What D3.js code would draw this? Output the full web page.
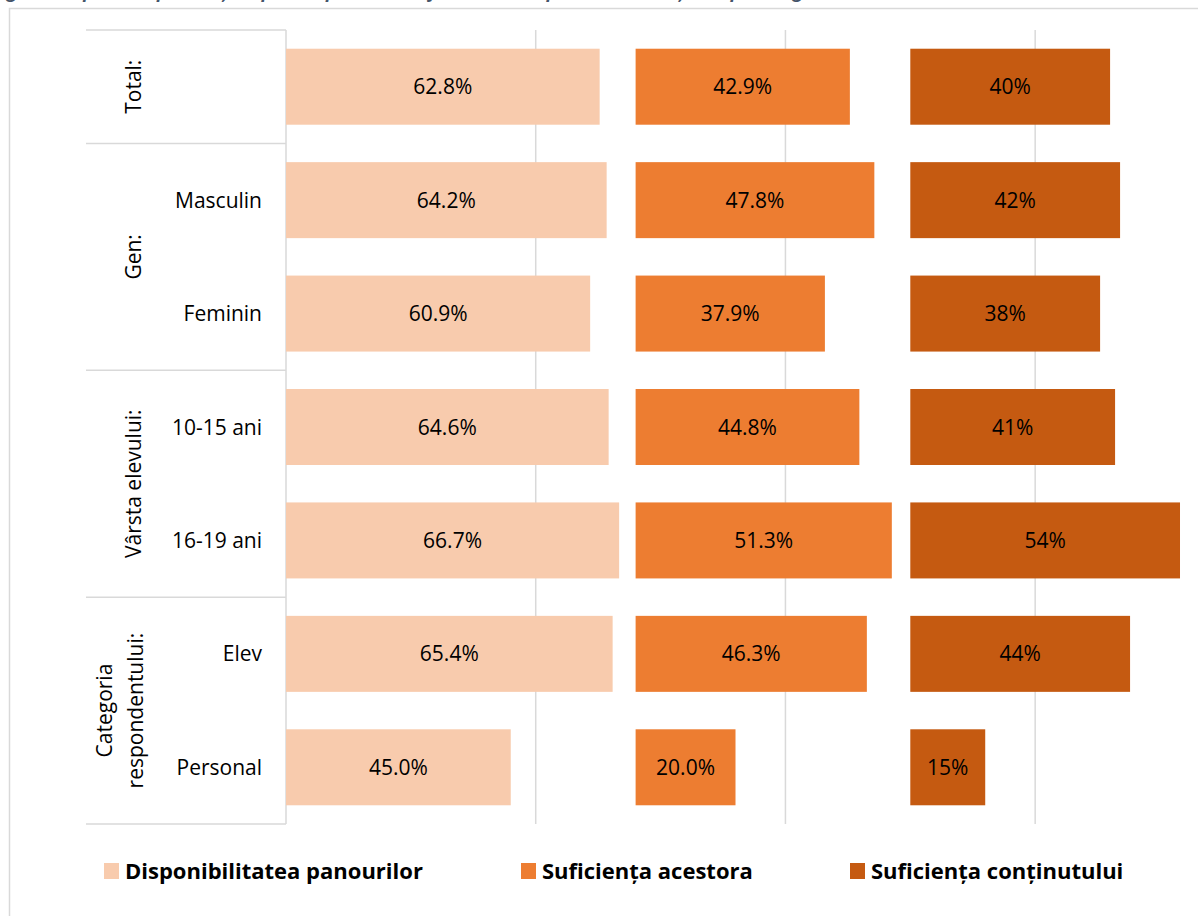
<!DOCTYPE html>
<html>
<head>
<meta charset="utf-8">
<script src="https://cdn.jsdelivr.net/npm/d3@7"></script>
<style>
  body { margin: 0; background: #fff; }
  svg { display: block; }
</style>
</head>
<body>
<div id="chart"></div>
<script>
// Categorii (nivel 2) si grupurile lor (nivel 1)
const categories = ["Total", "Masculin", "Feminin", "10-15 ani", "16-19 ani", "Elev", "Personal"];
const catLabels = ["", "Masculin", "Feminin", "10-15 ani", "16-19 ani", "Elev", "Personal"];
const groups = [
    { name: ["Total:"], size: 1 },
    { name: ["Gen:"], size: 2 },
    { name: ["Vârsta elevului:"], size: 2 },
    { name: ["Categoria", "respondentului:"], size: 2 }
];

// Serii (%)
const seriesNames = ["Disponibilitatea panourilor", "Suficiența acestora", "Suficiența conținutului"];
const disponibilitate = [62.8, 64.2, 60.9, 64.6, 66.7, 65.4, 45.0];
const suficientaAcestora = [42.9, 47.8, 37.9, 44.8, 51.3, 46.3, 20.0];
const suficientaContinut = [40, 42, 38, 41, 54, 44, 15];
const labelsDisp = ["62.8%", "64.2%", "60.9%", "64.6%", "66.7%", "65.4%", "45.0%"];
const labelsAcest = ["42.9%", "47.8%", "37.9%", "44.8%", "51.3%", "46.3%", "20.0%"];
const labelsCont = ["40%", "42%", "38%", "41%", "54%", "44%", "15%"];
// serii "ascunse" de umplutura din Excel (unde incepe fiecare panou, %)
const panelStart = [0, 70, 125];
const gridValues = [0, 50, 100, 150];

const colors = ["#F8CBAD", "#ED7D31", "#C55A11"];
const font = "'Open Sans', 'Noto Sans', sans-serif";

const W = 1198, H = 916;
const margin = { top: 30, left: 286, right: 13, bottom: 92 };

const svg = d3.select("#chart").append("svg")
    .attr("width", W)
    .attr("height", H);

// rama graficului
svg.append("rect")
    .attr("x", 9.5).attr("y", 8.5)
    .attr("width", 1200).attr("height", 920)
    .attr("fill", "none")
    .attr("stroke", "#D9D9D9")
    .attr("stroke-width", 1.5);

// titlu (taiat sus, ca in original)
svg.append("text")
    .attr("x", -8).attr("y", -2)
    .attr("font-family", font)
    .attr("font-size", 18)
    .attr("font-weight", 700)
    .attr("font-style", "italic")
    .attr("fill", "#44546A")
    .text("Figura 9. Opinia respondenților privind panourile informative despre activitatea școlii, pe categorii, %");

const x = d3.scaleLinear()
    .domain([0, 180])
    .range([margin.left, W - margin.right]);

const y = d3.scaleBand()
    .domain(categories)
    .range([margin.top, H - margin.bottom])
    .paddingInner(0.33)
    .paddingOuter(0.165);

const yTop = margin.top, yBottom = H - margin.bottom;

// gridlines verticale
svg.append("g")
    .selectAll("line")
    .data(gridValues)
    .enter()
    .append("line")
    .attr("x1", d => x(d))
    .attr("x2", d => x(d))
    .attr("y1", yTop)
    .attr("y2", yBottom)
    .attr("stroke", "#D9D9D9")
    .attr("stroke-width", 1.5);

// separatorii axei pe doua niveluri
const step = y.step();
let boundaries = [0];
groups.forEach(g => boundaries.push(boundaries[boundaries.length - 1] + g.size));
svg.append("g")
    .selectAll("line")
    .data(boundaries)
    .enter()
    .append("line")
    .attr("x1", 86)
    .attr("x2", x(0))
    .attr("y1", d => yTop + d * step)
    .attr("y2", d => yTop + d * step)
    .attr("stroke", "#D9D9D9")
    .attr("stroke-width", 1.5);

// barele
const allSeries = [disponibilitate, suficientaAcestora, suficientaContinut];
const allLabels = [labelsDisp, labelsAcest, labelsCont];

allSeries.forEach((vals, s) => {
    const g = svg.append("g");
    g.selectAll("rect")
        .data(vals)
        .enter()
        .append("rect")
        .attr("x", () => x(panelStart[s]))
        .attr("y", (d, i) => y(categories[i]))
        .attr("width", d => x(panelStart[s] + d) - x(panelStart[s]))
        .attr("height", y.bandwidth())
        .attr("fill", colors[s]);

    g.selectAll("text")
        .data(vals)
        .enter()
        .append("text")
        .attr("x", d => (x(panelStart[s]) + x(panelStart[s] + d)) / 2)
        .attr("y", (d, i) => y(categories[i]) + y.bandwidth() / 2)
        .attr("dy", "0.36em")
        .attr("text-anchor", "middle")
        .attr("font-family", font)
        .attr("font-size", 21)
        .attr("fill", "#000")
        .text((d, i) => allLabels[s][i]);
});

// etichete categorii
svg.append("g")
    .selectAll("text")
    .data(categories)
    .enter()
    .append("text")
    .attr("x", 262)
    .attr("y", d => y(d) + y.bandwidth() / 2)
    .attr("dy", "0.36em")
    .attr("text-anchor", "end")
    .attr("font-family", font)
    .attr("font-size", 21)
    .attr("fill", "#000")
    .text((d, i) => catLabels[i]);

// etichete grupuri (rotite)
groups.forEach((g, k) => {
    const cy = yTop + (boundaries[k] + g.size / 2) * step;
    const n = g.name.length;
    g.name.forEach((line, j) => {
        const cx = 133 + (j - (n - 1)) * 31 + (n > 1 ? 2 : 0);
        svg.append("text")
            .attr("transform", `translate(${cx},${cy}) rotate(-90)`)
            .attr("dy", "0.36em")
            .attr("text-anchor", "middle")
            .attr("font-family", font)
            .attr("font-size", 21)
            .attr("fill", "#000")
            .text(line);
    });
});

// legenda
const legendX = [104, 521, 850];
const leg = svg.append("g")
    .selectAll("g")
    .data(seriesNames)
    .enter()
    .append("g")
    .attr("transform", (d, i) => `translate(${legendX[i]}, 871)`);

leg.append("rect")
    .attr("x", 0).attr("y", -8)
    .attr("width", 15).attr("height", 16)
    .attr("fill", (d, i) => colors[i]);

leg.append("text")
    .attr("x", 21)
    .attr("dy", "0.36em")
    .attr("font-family", font)
    .attr("font-size", 22)
    .attr("font-weight", 700)
    .attr("fill", "#000")
    .text(d => d);
</script>
</body>
</html>
